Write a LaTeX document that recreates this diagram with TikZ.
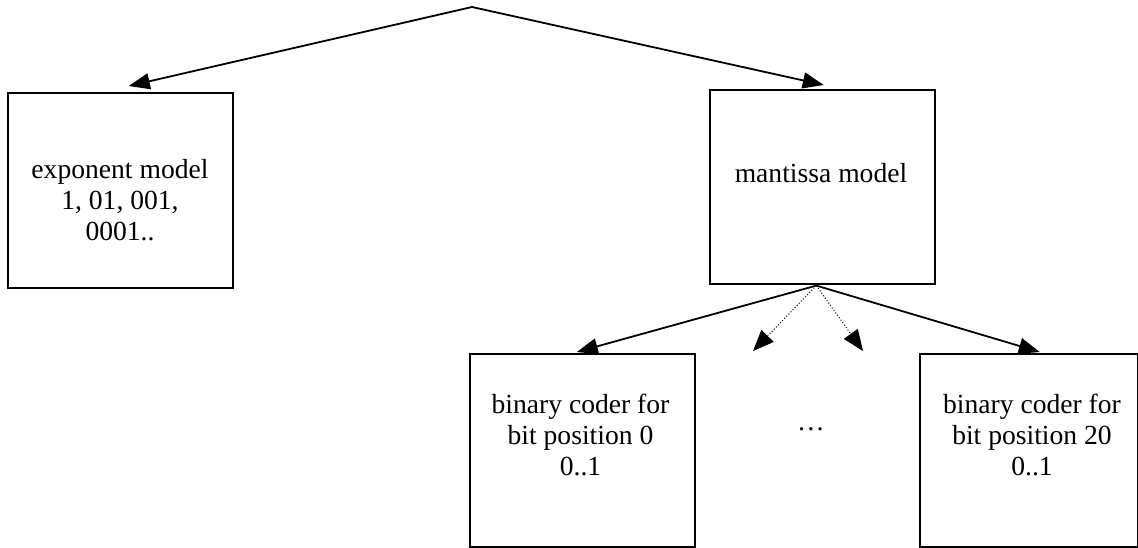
\documentclass[tikz,border=0pt]{standalone}
\usepackage{fontspec}
\setmainfont{Liberation Serif}
\usetikzlibrary{arrows.meta}
\begin{document}
\begin{tikzpicture}[x=1pt,y=-1pt,
  box/.style={draw, line width=1.6pt, minimum width=225pt, minimum height=194pt, inner sep=0pt, anchor=north west},
  lbl/.style={font=\fontsize{27.6}{31}\selectfont, anchor=base, inner sep=0pt},
  arr/.style={line width=1.8pt, line cap=round, -{Triangle[length=21pt,width=16pt]}},
  darr/.style={line width=1pt, dotted, -{Triangle[length=21pt,width=17pt]}}]
\useasboundingbox (0,0) rectangle (1138,547);
% boxes
\node[box, minimum height=195pt] (exp) at (7,92) {};
\node[box] (mant) at (709,89) {};
\node[box, minimum height=193pt] (bin0) at (469,353) {};
\node[box, minimum height=193pt, minimum width=218pt] (bin20) at (919,353) {};
% texts
\node[lbl] (expT) at (120,178) {\begin{tabular}[t]{@{}c@{}}exponent model\\1, 01, 001,\\0001..\end{tabular}};
\node[lbl] (mantT) at (821,182) {mantissa model};
\node[lbl] (bin0T) at (580.5,413) {\begin{tabular}[t]{@{}c@{}}binary coder for\\bit position 0\\0..1\end{tabular}};
\node[lbl] (bin20T) at (1032,413) {\begin{tabular}[t]{@{}c@{}}binary coder for\\bit position 20\\0..1\end{tabular}};
\node[lbl] (dots) at (811,430) {…};
% coordinates
\coordinate (apex) at (472,7);
\coordinate (fork) at ([shift={(-6,1)}]mant.south);
\coordinate (d1) at (753,351);
\coordinate (d2) at (863,351);
% connectors
\draw[arr] (apex) -- ([shift={(8.5,-6)}]exp.north);
\draw[arr] (apex) -- ([shift={(1.5,-4)}]mant.north);
\draw[arr] (fork) -- ([shift={(-5.5,-1)}]bin0.north);
\draw[arr] (fork) -- ([shift={(11,-1)}]bin20.north);
\draw[darr] (fork) -- (d1);
\draw[darr] (fork) -- (d2);
\end{tikzpicture}
\end{document}
